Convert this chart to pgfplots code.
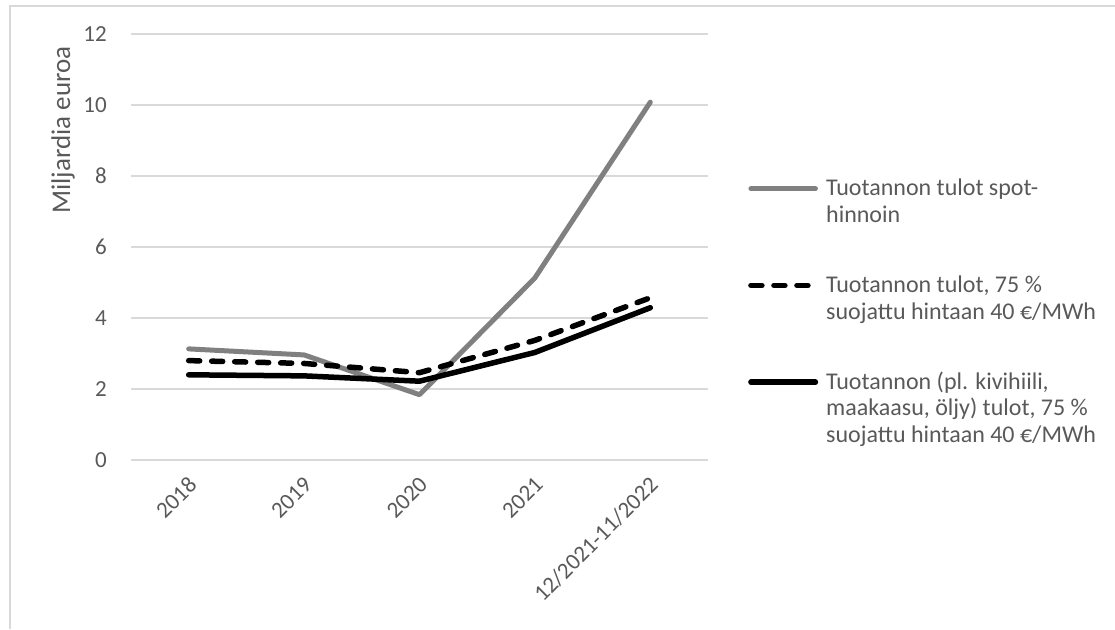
\documentclass[border=0pt]{standalone}
\usepackage{pgfplots}
\pgfplotsset{compat=1.18}
\usepackage{fontspec}
\setmainfont{Carlito}
\definecolor{txt}{HTML}{595959}
\definecolor{gridc}{HTML}{D9D9D9}
\definecolor{spot}{HTML}{808080}
\begin{document}
\begin{tikzpicture}
\path[use as bounding box] (0pt,0pt) rectangle (1115pt,-629pt);
\draw[gridc, line width=1.5pt] (10pt,-629pt) -- (10pt,-6pt) -- (1115pt,-6pt);
\node[rotate=90, text=txt, font=\fontsize{27}{32}\selectfont] at (63pt,-130pt) {Miljardia euroa};
\begin{axis}[
  at={(131pt,-460pt)}, anchor=south west,
  scale only axis, width=577pt, height=426pt,
  xmin=-0.5, xmax=4.5, ymin=0, ymax=12,
  xtick={0,1,2,3,4},
  xticklabels={2018,2019,2020,2021,12/2021-11/2022},
  ytick={0,2,4,6,8,10,12},
  yticklabels={0,2,4,6,8,10,12},
  axis line style={draw=none},
  major tick length=0pt,
  ymajorgrids, grid style={gridc, line width=1.3pt},
  tick label style={text=txt, font=\fontsize{23}{27}\selectfont},
  yticklabel style={anchor=east, inner sep=0pt, xshift=-24pt},
  xticklabel style={anchor=east, inner sep=0pt, xshift=4pt, yshift=-21pt, rotate=45},
  legend style={at={(1.0693,0.6643)}, anchor=north west, draw=none, fill=none,
    inner sep=0pt, row sep=50pt, column sep=8pt,
    font=\fontsize{24}{26.5}\selectfont, text=txt,
    cells={anchor=north west},
    nodes={align=left, inner sep=0pt}},
  legend image code/.code={\draw[#1] (2.75pt,-11.5pt) -- (67.25pt,-11.5pt);},
  clip=false,
]
\addplot[spot, line width=5pt, line join=round, line cap=round] coordinates {
 (0,3.13) (1,2.96) (2,1.84) (3,5.13) (4,10.08)};
\addlegendentry{\strut Tuotannon tulot spot-\\hinnoin\strut}
\addplot[black, line width=5.5pt, line join=round, line cap=round, dash pattern=on 11pt off 12pt] coordinates {
 (0,2.80) (1,2.72) (2,2.46) (3,3.37) (4,4.57)};
\addlegendentry{\strut Tuotannon tulot, 75 \%\\suojattu hintaan 40 €/MWh\strut}
\addplot[black, line width=5.5pt, line join=round, line cap=round] coordinates {
 (0,2.40) (1,2.37) (2,2.22) (3,3.03) (4,4.29)};
\addlegendentry{\strut Tuotannon (pl. kivihiili,\\maakaasu, öljy) tulot, 75 \%\\suojattu hintaan 40 €/MWh\strut}
\end{axis}
\end{tikzpicture}
\end{document}
